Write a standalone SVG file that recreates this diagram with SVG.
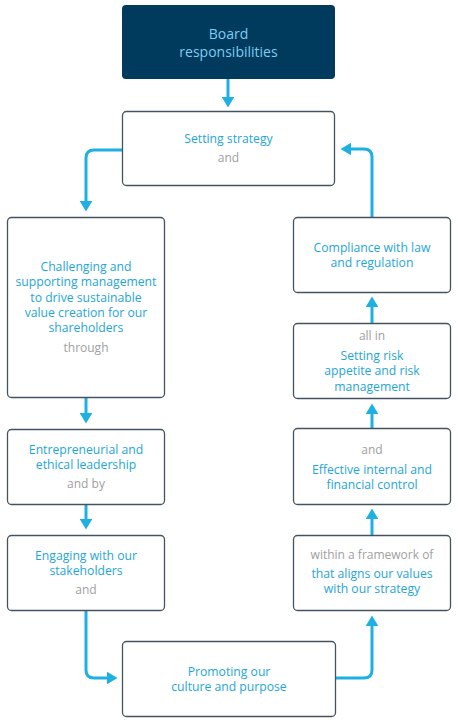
<svg xmlns="http://www.w3.org/2000/svg" width="458" height="723" viewBox="0 0 458 723">
<style>
.box{fill:#fff;stroke:#44535f;stroke-width:1.3}
.t{font-family:"Open Sans","Noto Sans",sans-serif;font-size:12.2px;font-weight:500;text-anchor:middle;fill:#1ea6d8}
.g{fill:#a0a0a0;font-weight:400;font-size:12px}
.c{fill:none;stroke:#1fb0e2;stroke-width:3}
</style>
<defs>
<marker id="ah" viewBox="0 0 10 12" refX="1" refY="6" markerWidth="3.6" markerHeight="4.2" orient="auto" markerUnits="strokeWidth">
<path d="M0,0 L10,6 L0,12 Z" fill="#1fb0e2"/>
</marker>
</defs>
<g id="connectors">
<path class="c" d="M228,79 V98" marker-end="url(#ah)"/>
<path class="c" d="M122,150 H94 Q86,150 86,158 V202" marker-end="url(#ah)"/>
<path class="c" d="M86,397 V414" marker-end="url(#ah)"/>
<path class="c" d="M86,504 V520" marker-end="url(#ah)"/>
<path class="c" d="M86,610 V670 Q86,678 94,678 H108" marker-end="url(#ah)"/>
<path class="c" d="M336,678 H364 Q372,678 372,670 V625" marker-end="url(#ah)"/>
<path class="c" d="M372,535 V518" marker-end="url(#ah)"/>
<path class="c" d="M372,428 V413" marker-end="url(#ah)"/>
<path class="c" d="M372,323 V306" marker-end="url(#ah)"/>
<path class="c" d="M372,217 V157 Q372,149 364,149 H350" marker-end="url(#ah)"/>
</g>
<g id="board">
<rect x="122" y="5" width="213" height="74" rx="4" fill="#003a5d"/>
<text class="t" x="228.5" y="39" style="font-size:14px;fill:#7fcdf1">Board</text>
<text class="t" x="228.5" y="57" style="font-size:14px;fill:#7fcdf1">responsibilities</text>
</g>
<g id="strategy">
<rect class="box" x="122.5" y="111.5" width="212" height="74" rx="4"/>
<text class="t" x="228.5" y="143">Setting strategy</text>
<text class="t g" x="228.5" y="162">and</text>
</g>
<g id="challenging">
<rect class="box" x="7.5" y="217.5" width="157" height="180" rx="4"/>
<text class="t" x="86" y="271">Challenging and</text>
<text class="t" x="86" y="286">supporting management</text>
<text class="t" x="86" y="302">to drive sustainable</text>
<text class="t" x="86" y="317">value creation for our</text>
<text class="t" x="86" y="332">shareholders</text>
<text class="t g" x="86" y="352">through</text>
</g>
<g id="entrepreneurial">
<rect class="box" x="7.5" y="429.5" width="157" height="75" rx="4"/>
<text class="t" x="86" y="454">Entrepreneurial and</text>
<text class="t" x="86" y="469">ethical leadership</text>
<text class="t g" x="86" y="488">and by</text>
</g>
<g id="engaging">
<rect class="box" x="7.5" y="535.5" width="157" height="75" rx="4"/>
<text class="t" x="86" y="560">Engaging with our</text>
<text class="t" x="86" y="575">stakeholders</text>
<text class="t g" x="86" y="594">and</text>
</g>
<g id="promoting">
<rect class="box" x="122.5" y="641.5" width="213" height="75" rx="4"/>
<text class="t" x="229" y="676">Promoting our</text>
<text class="t" x="229" y="691">culture and purpose</text>
</g>
<g id="framework">
<rect class="box" x="293.5" y="535.5" width="157" height="75" rx="4"/>
<text class="t g" x="372" y="559">within a framework of</text>
<text class="t" x="372" y="578">that aligns our values</text>
<text class="t" x="372" y="593">with our strategy</text>
</g>
<g id="control">
<rect class="box" x="293.5" y="428.5" width="157" height="76" rx="4"/>
<text class="t g" x="372" y="454">and</text>
<text class="t" x="372" y="474">Effective internal and</text>
<text class="t" x="372" y="489">financial control</text>
</g>
<g id="risk">
<rect class="box" x="293.5" y="323.5" width="157" height="75" rx="4"/>
<text class="t g" x="372" y="340">all in</text>
<text class="t" x="372" y="360">Setting risk</text>
<text class="t" x="372" y="375">appetite and risk</text>
<text class="t" x="372" y="391">management</text>
</g>
<g id="compliance">
<rect class="box" x="293.5" y="217.5" width="157" height="75" rx="4"/>
<text class="t" x="372" y="252">Compliance with law</text>
<text class="t" x="372" y="267">and regulation</text>
</g>
</svg>
